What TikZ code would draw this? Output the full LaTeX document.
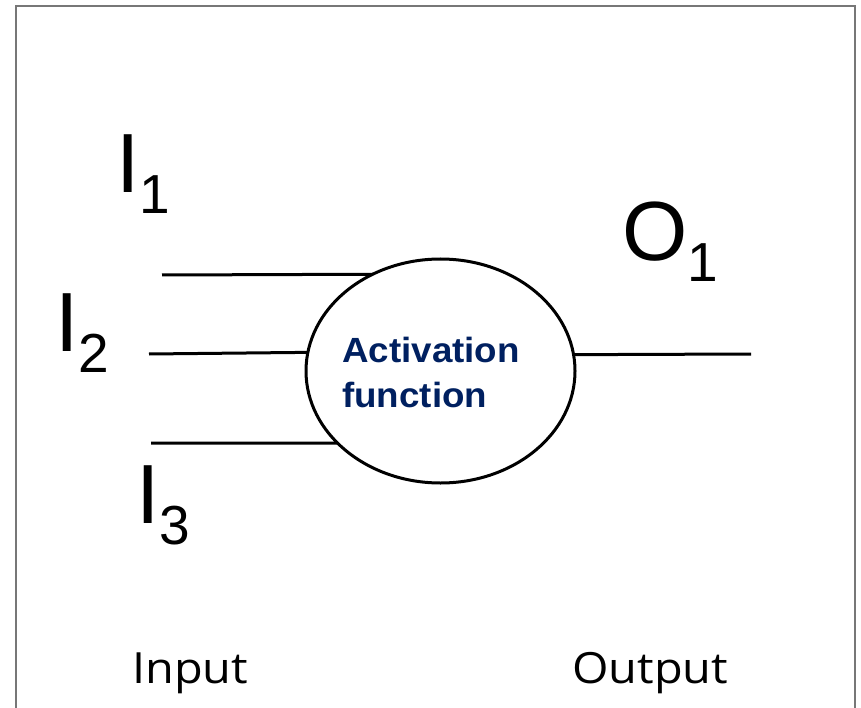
\documentclass[tikz,border=0pt]{standalone}
\usepackage{fontspec}
\setmainfont{Liberation Sans}
\newfontfamily\labfont[FakeStretch=1.09]{Open Sans}
\newfontfamily\actfont[FakeStretch=1.05]{Liberation Sans}
\usetikzlibrary{shapes.geometric}
\definecolor{actblue}{HTML}{002060}
\definecolor{framegray}{HTML}{777777}
\tikzset{
  wire/.style={line width=3pt},
  bigsym/.style={anchor=base west, inner sep=0pt, outer sep=0pt, font=\fontsize{84}{84}\selectfont},
  acttext/.style={anchor=base west, inner sep=0pt, text=actblue, font=\actfont\bfseries\fontsize{35}{35}\selectfont},
  axislab/.style={anchor=base west, inner sep=0pt, font=\labfont\fontsize{43}{43}\selectfont},
  neuron/.style={ellipse, draw, line width=3pt, minimum width=269pt, minimum height=224pt, inner sep=0pt, outer sep=0pt}
}
\newcommand{\subnum}[1]{\raisebox{-21pt}{\fontsize{55}{55}\selectfont #1}}
\begin{document}
\begin{tikzpicture}[x=1pt,y=-1pt]
\useasboundingbox (0,0) rectangle (861,708);
\draw[framegray, line width=2pt] (16,708) -- (16,6) -- (855,6) -- (855,708);
\node[neuron] (e) at (440.5,371) {};
\node[acttext] (act1) at (342,362) {Activation};
\node[acttext] (act2) at (342,407) {function};
\coordinate (in1) at (162,275);
\coordinate (in2) at (149,354);
\coordinate (in3) at (151,443);
\coordinate (out) at (751,354);
\draw[wire] (in1) -- (e.125.8);
\draw[wire] (in2) -- (e.172.7);
\draw[wire] (in3) -- (e.215);
\draw[wire] (e.7.3) -- (out);
\node[bigsym] (i1) at (116,193) {I\subnum{1}};
\node[bigsym] (i2) at (55,351) {I\subnum{2}};
\node[bigsym] (i3) at (136,523) {I\subnum{3}};
\node[bigsym] (o1) at (622,261) {O\subnum{1}};
\node[axislab] (inlab) at (132,683) {Input};
\node[axislab] (outlab) at (572,683) {Output};
\end{tikzpicture}
\end{document}
